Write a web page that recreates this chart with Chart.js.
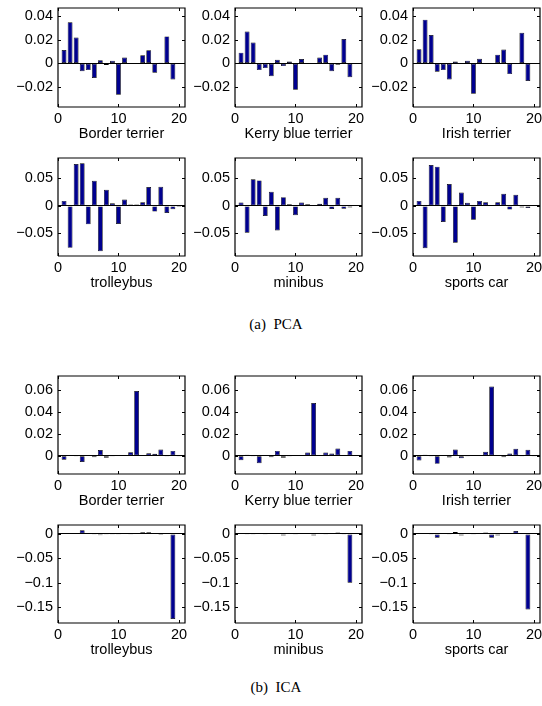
<!DOCTYPE html>
<html>
<head>
<meta charset="utf-8">
<script src="https://cdn.jsdelivr.net/npm/chart.js@4.4.0/dist/chart.umd.min.js"></script>
<style>
  body { margin: 0; background: #fff; width: 542px; height: 706px; position: relative; overflow: hidden; }
  canvas { position: absolute; }
  .caption { position: absolute; left: 0; width: 552px; text-align: center; font-family: "Liberation Serif", "Times New Roman", serif; font-size: 15px; line-height: 1; color: #000; white-space: pre; }
</style>
</head>
<body>
<div class="caption" style="top:317px">(a)  PCA</div>
<div class="caption" style="top:680px">(b)  ICA</div>
<script>
// === Data ===
const componentIndex = [1, 2, 3, 4, 5, 6, 7, 8, 9, 10, 11, 12, 13, 14, 15, 16, 17, 18, 19, 20];

const pcaBorderTerrier = [0.0114, 0.0349, 0.0220, -0.0066, -0.0057, -0.0123, 0.0026, -0.0014, 0.0023, -0.0266, 0.0049, 0.0003, 0.0002, 0.0069, 0.0111, -0.0080, 0.0006, 0.0229, -0.0137, -0.0003];
const pcaKerryBlue     = [0.0091, 0.0271, 0.0177, -0.0057, -0.0040, -0.0109, 0.0031, -0.0023, 0.0017, -0.0223, 0.0037, 0.0001, 0.0003, 0.0049, 0.0074, -0.0066, -0.0011, 0.0206, -0.0117, -0.0003];
const pcaIrishTerrier  = [0.0120, 0.0371, 0.0240, -0.0071, -0.0057, -0.0137, 0.0017, -0.0003, 0.0023, -0.0257, 0.0040, 0.0001, 0.0003, 0.0074, 0.0117, -0.0091, 0.0003, 0.0260, -0.0149, -0.0003];
const pcaTrolleybus    = [0.0091, -0.0762, 0.0762, 0.0774, -0.0335, 0.0457, -0.0823, 0.0293, 0.0049, -0.0329, 0.0116, 0.0024, 0.0024, 0.0067, 0.0341, -0.0104, 0.0348, -0.0128, -0.0061, -0.0020];
const pcaMinibus       = [0.0061, -0.0488, 0.0482, 0.0463, -0.0183, 0.0256, -0.0445, 0.0159, 0.0030, -0.0171, 0.0061, 0.0030, 0.0003, 0.0037, 0.0146, -0.0055, 0.0146, -0.0050, -0.0030, -0.0010];
const pcaSportsCar     = [0.0091, -0.0768, 0.0744, 0.0713, -0.0293, 0.0396, -0.0670, 0.0244, 0.0055, -0.0250, 0.0091, 0.0067, 0.0003, 0.0067, 0.0220, -0.0067, 0.0201, -0.0030, -0.0037, -0.0010];

const icaBorderTerrier = [-0.0036, 0.0006, -0.0006, -0.0055, -0.0003, -0.0012, 0.0052, -0.0018, -0.0006, 0.0002, 0.0002, 0.0033, 0.0588, 0.0003, 0.0024, 0.0018, 0.0058, -0.0005, 0.0045, -0.0005];
const icaKerryBlue     = [-0.0039, 0.0009, -0.0006, -0.0067, -0.0003, -0.0012, 0.0045, -0.0018, -0.0006, 0.0001, 0.0001, 0.0030, 0.0479, 0.0003, 0.0030, 0.0021, 0.0067, 0.0001, 0.0045, -0.0003];
const icaIrishTerrier  = [-0.0042, 0.0009, -0.0006, -0.0073, -0.0003, -0.0015, 0.0058, -0.0021, -0.0006, 0.0001, 0.0001, 0.0036, 0.0630, 0.0001, -0.0012, 0.0021, 0.0064, -0.0006, 0.0055, -0.0006];
const icaTrolleybus    = [0.0005, 0.0003, 0.0002, 0.0075, 0.0004, -0.0005, -0.0027, -0.0004, -0.0003, -0.0005, 0.0003, -0.0006, 0.0004, 0.0034, 0.0034, 0.0005, -0.0020, 0.0004, -0.1747, 0.0003];
const icaMinibus       = [0.0003, -0.0004, -0.0005, 0.0004, -0.0006, 0.0003, 0.0020, -0.0030, 0.0004, -0.0003, 0.0005, 0.0004, -0.0030, 0.0003, -0.0004, 0.0004, 0.0030, -0.0003, -0.1000, 0.0004];
const icaSportsCar     = [0.0003, 0.0004, -0.0004, -0.0075, 0.0005, -0.0006, 0.0040, -0.0030, 0.0004, -0.0003, 0.0005, 0.0030, -0.0075, -0.0030, 0.0004, 0.0005, 0.0060, 0.0003, -0.1550, 0.0004];

// axis ranges + tick steps per row
const pcaDogRange = [-0.037, 0.047];      const pcaDogStep = 0.02;
const pcaVehicleRange = [-0.091, 0.087];  const pcaVehicleStep = 0.05;
const icaDogRange = [-0.0165, 0.0725];    const icaDogStep = 0.02;
const icaVehicleRange = [-0.183, 0.0185]; const icaVehicleStep = 0.05;
const xRange = [0, 21];
const xStep = 10;

// === Layout (plot box positions in page px) ===
const COLS = [58, 235, 413];
const BOX_W = 127;
const PAD_L = 56, PAD_R = 4, PAD_T = 6, AXIS_H = 36;
const BAR_FILL = '#00008f';
const FONT = { family: '"Liberation Sans", Arial, Helvetica, sans-serif', size: 14.5, lineHeight: 1 };

const panels = [
  { col: 0, top: 8,   h: 99, title: 'Border terrier',   values: pcaBorderTerrier, range: pcaDogRange, step: pcaDogStep },
  { col: 1, top: 8,   h: 99, title: 'Kerry blue terrier', values: pcaKerryBlue, range: pcaDogRange, step: pcaDogStep },
  { col: 2, top: 8,   h: 99, title: 'Irish terrier',    values: pcaIrishTerrier,  range: pcaDogRange, step: pcaDogStep },
  { col: 0, top: 158, h: 98, title: 'trolleybus',       values: pcaTrolleybus,    range: pcaVehicleRange, step: pcaVehicleStep },
  { col: 1, top: 158, h: 98, title: 'minibus',          values: pcaMinibus,       range: pcaVehicleRange, step: pcaVehicleStep },
  { col: 2, top: 158, h: 98, title: 'sports car',       values: pcaSportsCar,     range: pcaVehicleRange, step: pcaVehicleStep },
  { col: 0, top: 376, h: 98, title: 'Border terrier',   values: icaBorderTerrier, range: icaDogRange, step: icaDogStep },
  { col: 1, top: 376, h: 98, title: 'Kerry blue terrier', values: icaKerryBlue, range: icaDogRange, step: icaDogStep },
  { col: 2, top: 376, h: 98, title: 'Irish terrier',    values: icaIrishTerrier,  range: icaDogRange, step: icaDogStep },
  { col: 0, top: 525, h: 98, title: 'trolleybus',       values: icaTrolleybus,    range: icaVehicleRange, step: icaVehicleStep },
  { col: 1, top: 525, h: 98, title: 'minibus',          values: icaMinibus,       range: icaVehicleRange, step: icaVehicleStep },
  { col: 2, top: 525, h: 98, title: 'sports car',       values: icaSportsCar,     range: icaVehicleRange, step: icaVehicleStep }
];

// matlab style tick text: "0.04", "−0.02", "0"
function fmt(v) {
  if (Math.abs(v) < 1e-9) return '0';
  return (v < 0 ? '\u2212' : '') + String(+Math.abs(v).toFixed(4));
}

// inward tick marks on all four sides
const tickPlugin = {
  id: 'matlabTicks',
  afterDraw(c) {
    const ctx = c.ctx, a = c.chartArea, xs = c.scales.x, ys = c.scales.y;
    const L = Math.round(a.left), R = Math.round(a.right) - 1;
    const T = Math.round(a.top), B = Math.round(a.bottom) - 1;
    const len = 3;
    ctx.save();
    ctx.fillStyle = '#000';
    ys.ticks.forEach(t => {
      const y = Math.round(ys.getPixelForValue(t.value));
      ctx.fillRect(L, y, len, 1);
      ctx.fillRect(R - len + 1, y, len, 1);
    });
    xs.ticks.forEach(t => {
      const x = Math.min(Math.round(xs.getPixelForValue(t.value)), R);
      ctx.fillRect(x, B - len + 1, 1, len);
      ctx.fillRect(x, T, 1, len);
    });
    ctx.restore();
  }
};

function makePanel(p) {
  const cv = document.createElement('canvas');
  const left = COLS[p.col];
  cv.width = PAD_L + BOX_W + PAD_R;
  cv.height = PAD_T + p.h + AXIS_H;
  cv.style.left = (left - PAD_L) + 'px';
  cv.style.top = (p.top - PAD_T) + 'px';
  document.body.appendChild(cv);

  // axes box traced through the chart's own scales (corners of the axis range)
  const boxOutline = [
    { x: xRange[0], y: p.range[0] }, { x: xRange[1], y: p.range[0] },
    { x: xRange[1], y: p.range[1] }, { x: xRange[0], y: p.range[1] },
    { x: xRange[0], y: p.range[0] }
  ];

  new Chart(cv, {
    type: 'bar',
    data: {
      datasets: [
        {
          type: 'bar',
          data: componentIndex.map((x, i) => ({ x, y: p.values[i] })),
          backgroundColor: BAR_FILL,
          borderColor: '#000',
          borderWidth: 0.7,
          borderSkipped: false,
          barPercentage: 0.8,
          categoryPercentage: 1,
          order: 2
        },
        {
          type: 'line',
          data: boxOutline,
          borderColor: '#000',
          borderWidth: 1.2,
          pointRadius: 0,
          fill: false,
          tension: 0,
          clip: false,
          order: 1
        }
      ]
    },
    options: {
      responsive: false,
      animation: false,
      layout: { padding: { left: 0, right: PAD_R, top: PAD_T, bottom: 0 } },
      plugins: { legend: { display: false }, tooltip: { enabled: false } },
      scales: {
        x: {
          type: 'linear', offset: false,
          min: xRange[0], max: xRange[1],
          grid: { display: false, drawTicks: false, offset: false },
          border: { display: false },
          ticks: { stepSize: xStep, includeBounds: false, padding: 5, maxRotation: 0, color: '#000', font: FONT },
          title: { display: true, text: p.title, color: '#000', font: FONT, padding: { top: 0, bottom: 1.5 } },
          afterFit(s) { s.height = AXIS_H; s.paddingLeft = 0; s.paddingRight = 0; }
        },
        y: {
          min: p.range[0], max: p.range[1],
          grid: {
            drawTicks: false, lineWidth: 1,
            color: c => (c.tick && Math.abs(c.tick.value) < 1e-9) ? '#000' : 'rgba(0,0,0,0)'
          },
          border: { display: false },
          ticks: { stepSize: p.step, includeBounds: false, padding: 5, color: '#000', font: FONT, callback: v => fmt(v) },
          afterFit(s) { s.width = PAD_L; s.paddingTop = 0; s.paddingBottom = 0; }
        }
      }
    },
    plugins: [tickPlugin]
  });
}

panels.forEach(makePanel);
</script>
</body>
</html>
